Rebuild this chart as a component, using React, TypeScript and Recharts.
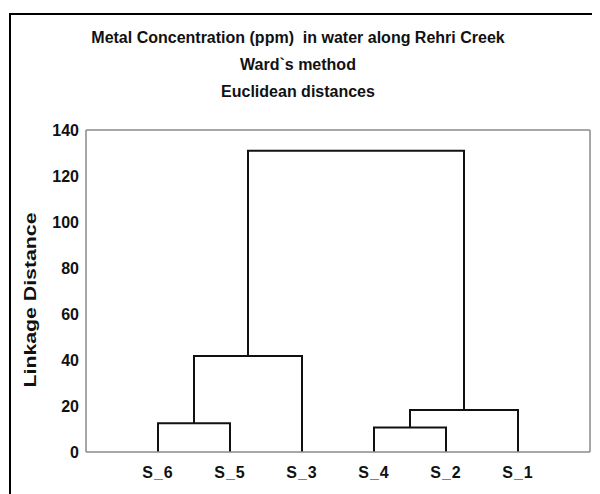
import React from 'react';
import { ComposedChart, Line, XAxis, YAxis } from 'recharts';

// Leaves in display order
const leafLabels = ['S_6', 'S_5', 'S_3', 'S_4', 'S_2', 'S_1'];
// Merges (scipy-style): new cluster index = 6 + merge index
const mergeLeft = [3, 0, 6, 7, 9];
const mergeRight = [4, 1, 5, 2, 8];
const mergeHeight = [10.6, 12.5, 18.3, 41.7, 131];

const yTicks = [0, 20, 40, 60, 80, 100, 120, 140];
const minorTicks = Array.from({ length: 36 }, (_, i) => i * 4).filter((v) => v <= 140);
const xTicks = leafLabels.map((_, i) => i + 1);

type Pt = { x: number; y: number };

const buildLinks = (): Pt[][] => {
  const pos: number[] = leafLabels.map((_, i) => i + 1);
  const hgt: number[] = leafLabels.map(() => 0);
  const links: Pt[][] = [];
  mergeLeft.forEach((a, k) => {
    const b = mergeRight[k];
    const h = mergeHeight[k];
    links.push([
      { x: pos[a], y: hgt[a] },
      { x: pos[a], y: h },
      { x: pos[b], y: h },
      { x: pos[b], y: hgt[b] },
    ]);
    pos.push((pos[a] + pos[b]) / 2);
    hgt.push(h);
  });
  return links;
};

const links = buildLinks();

const FONT = '"Liberation Sans", Arial, sans-serif';
const AXIS = '#8a8a8a';

const XTick = (props: any) => {
  const { x, y, payload } = props;
  return (
    <text
      x={x}
      y={y}
      dy={18}
      textAnchor="middle"
      fill="#111"
      fontFamily={FONT}
      fontWeight="bold"
      fontSize={16}
      letterSpacing={1}
    >
      {leafLabels[payload.value - 1] ?? ''}
    </text>
  );
};

const YTick = (props: any) => {
  const { y, payload } = props;
  return (
    <text
      x={71}
      y={y}
      dy={6}
      textAnchor="end"
      fill="#111"
      fontFamily={FONT}
      fontWeight="bold"
      fontSize={16}
    >
      {payload.value}
    </text>
  );
};

const YLabel = (props: any) => {
  const vb = props.viewBox || {};
  const cx = 22;
  const cy = (vb.y ?? 122) + (vb.height ?? 322) / 2 + 9;
  return (
    <text
      x={cx}
      y={cy}
      transform={`rotate(-90, ${cx}, ${cy})`}
      textAnchor="middle"
      dominantBaseline="central"
      fill="#111"
      fontFamily={FONT}
      fontWeight="bold"
      fontSize={16}
      textLength={175}
      lengthAdjust="spacingAndGlyphs"
    >
      Linkage Distance
    </text>
  );
};

export default function App() {
  const titleStyle: React.CSSProperties = {
    position: 'absolute',
    left: 0,
    width: 580,
    textAlign: 'center',
    fontFamily: FONT,
    fontWeight: 'bold',
    fontSize: 16,
    color: '#111',
    lineHeight: '16px',
    whiteSpace: 'pre',
  };
  return (
    <div style={{ position: 'relative', width: 592, height: 486, overflow: 'hidden', background: '#fff' }}>
      <div
        style={{
          position: 'absolute',
          left: 1,
          top: 5,
          width: 620,
          height: 520,
          borderLeft: '2px solid #000',
          borderTop: '2px solid #000',
        }}
      />
      <div style={{ ...titleStyle, top: 22 }}>Metal Concentration (ppm)  in water along Rehri Creek</div>
      <div style={{ ...titleStyle, top: 49 }}>Ward`s method</div>
      <div style={{ ...titleStyle, top: 76 }}>Euclidean distances</div>
      <div style={{ position: 'absolute', left: 0, top: 0 }}>
        <ComposedChart width={592} height={486} margin={{ top: 122, right: 10, bottom: 12, left: 0 }}>
          <XAxis
            xAxisId="bottom"
            type="number"
            dataKey="x"
            domain={[0, 7]}
            ticks={xTicks}
            axisLine={{ stroke: AXIS, strokeWidth: 1.5 }}
            tickLine={false}
            tickSize={6}
            tickMargin={2}
            height={30}
            tick={<XTick />}
            allowDataOverflow
          />
          <XAxis
            xAxisId="top"
            orientation="top"
            mirror
            type="number"
            dataKey="x"
            domain={[0, 7]}
            ticks={xTicks}
            tick={false}
            tickSize={3}
            axisLine={{ stroke: AXIS, strokeWidth: 1.5 }}
            tickLine={{ stroke: AXIS }}
          />
          <YAxis
            yAxisId="main"
            type="number"
            domain={[0, 140]}
            ticks={yTicks}
            width={78}
            axisLine={{ stroke: AXIS, strokeWidth: 1.5 }}
            tickLine={false}
            tickSize={6}
            tickMargin={0}
            tick={<YTick />}
            label={<YLabel />}
          />
          <YAxis
            yAxisId="leftMinor"
            orientation="left"
            mirror
            type="number"
            domain={[0, 140]}
            ticks={minorTicks}
            tick={false}
            tickSize={3}
            axisLine={false}
            tickLine={{ stroke: AXIS }}
          />
          <YAxis
            yAxisId="right"
            orientation="right"
            mirror
            type="number"
            domain={[0, 140]}
            ticks={minorTicks}
            tick={false}
            tickSize={3}
            axisLine={{ stroke: AXIS, strokeWidth: 1.5 }}
            tickLine={{ stroke: AXIS }}
          />
          {links.map((pts, i) => (
            <Line
              key={i}
              xAxisId="bottom"
              yAxisId="main"
              data={pts}
              dataKey="y"
              type="linear"
              stroke="#111"
              strokeWidth={2}
              dot={false}
              activeDot={false}
              isAnimationActive={false}
            />
          ))}
        </ComposedChart>
      </div>
    </div>
  );
}
